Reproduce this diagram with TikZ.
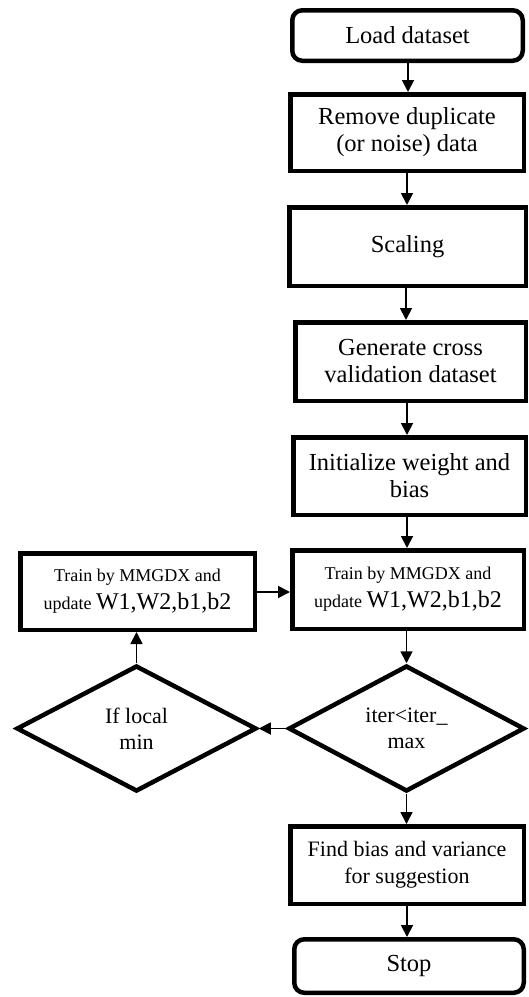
\documentclass[tikz,border=0pt]{standalone}
\usepackage{fontspec}
\setmainfont{Liberation Serif}
\usetikzlibrary{shapes.geometric,arrows.meta}
\tikzset{
  box/.style={draw=black, line width=4.5pt, fill=white, inner sep=2pt, align=center,
    font=\fontsize{24.5}{27}\selectfont},
  termbox/.style={box, rounded corners=10pt},
  dec/.style={draw=black, line width=4.5pt, diamond, aspect=1.83, inner sep=0pt,
    align=center, font=\fontsize{22}{26}\selectfont},
  flow/.style={line width=1.8pt, -{Triangle[length=12pt,width=12pt]}},
  trainfont/.style={font=\fontsize{18}{28}\selectfont}
}
\begin{document}
\begin{tikzpicture}[x=1pt,y=-1pt]
\useasboundingbox (0,0) rectangle (528,997);
\node[termbox, minimum width=230.5pt, minimum height=50.5pt] (load) at (407.5,35.5) {Load dataset};
\node[box, minimum width=233.5pt, minimum height=76.5pt] (remove) at (407,132.5) {Remove duplicate\\(or noise) data};
\node[box, minimum width=236.5pt, minimum height=78.5pt] (scaling) at (407.5,246.5) {Scaling};
\node[box, minimum width=230.5pt, minimum height=78.5pt] (gen) at (410.5,361.5) {Generate cross\\validation dataset};
\node[box, minimum width=232.5pt, minimum height=77.5pt] (init) at (409.5,476) {Initialize weight and\\bias};
\node[box, trainfont, minimum width=231.5pt, minimum height=78.5pt] (trainR) at (408,589.5)
  {Train by MMGDX and\\update {\fontsize{24}{28}\selectfont W1,W2,b1,b2}};
\node[box, trainfont, minimum width=234.5pt, minimum height=76.5pt] (trainL) at (137.5,591.5)
  {Train by MMGDX and\\update {\fontsize{24}{28}\selectfont W1,W2,b1,b2}};
\node[dec, minimum width=236pt, minimum height=126pt] (decR) at (406.5,728.5) {iter<iter\_\\max};
\node[dec, minimum width=240pt, minimum height=126pt] (decL) at (136.5,728.5) {If local\\min};
\node[box, font=\fontsize{22}{27}\selectfont, minimum width=233.5pt, minimum height=77.5pt] (find) at (407,865) {Find bias and variance\\for suggestion};
\node[termbox, minimum width=229.5pt, minimum height=53.5pt] (stop) at (409,966) {Stop};

\draw[flow] (load.south -| 408,0) -- (remove.north -| 408,0);
\draw[flow] (remove.south -| 407,0) -- (scaling.north -| 407,0);
\draw[flow] (scaling.south -| 406,0) -- (gen.north -| 406,0);
\draw[flow] (gen.south -| 407,0) -- (init.north -| 407,0);
\draw[flow] (init.south -| 407,0) -- (trainR.north -| 407,0);
\draw[flow] (trainR.south -| decR.north) -- (decR.north);
\draw[flow] (decR.west) -- (decL.east);
\draw[flow] (decL.north) -- (trainL.south -| decL.north);
\draw[flow] (trainL.east |- 0,592) -- (trainR.west |- 0,592);
\draw[flow] (decR.south) -- (find.north -| decR.south);
\draw[flow] (find.south -| 407,0) -- (stop.north -| 407,0);
\end{tikzpicture}
\end{document}
